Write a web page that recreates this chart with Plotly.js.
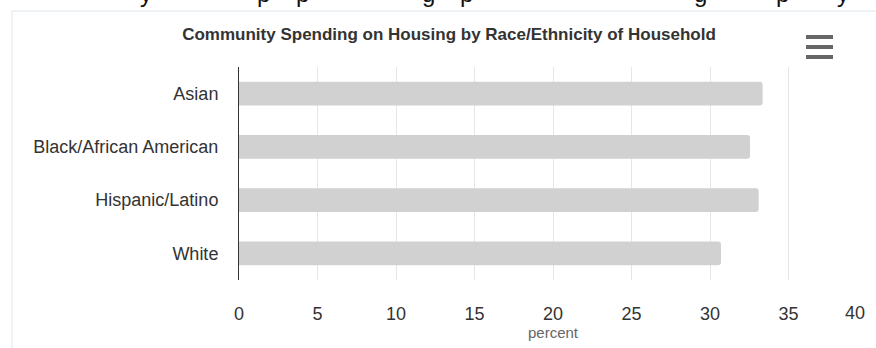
<!DOCTYPE html>
<html>
<head>
<meta charset="utf-8">
<script src="https://cdn.plot.ly/plotly-3.0.1.min.js"></script>
<style>
  html, body { margin: 0; padding: 0; background: #ffffff; }
  #chart { width: 876px; height: 348px; }
</style>
</head>
<body>
<div id="chart"></div>
<script>
// ---- data ----
var categories = ["Asian", "Black/African American", "Hispanic/Latino", "White"];
var spendingPercent = [33.35, 32.55, 33.1, 30.7];
var xTickValues = [0, 5, 10, 15, 20, 25, 30, 35, 40];
var xTickLabels = ["0", "5", "10", "15", "20", "25", "30", "35", "40"];
var chartTitle = "Community Spending on Housing by Race/Ethnicity of Household";
var xAxisTitle = "percent";
// cut-off letters of the page text above the chart (only descenders visible)
var pageTextAbove = ["y", "p", "p", "g", "p", "g", "p", "y"];

// ---- layout geometry (pixels) ----
var W = 876, H = 348;
var L = 239, R = 9, T = 67, B = 68;
var plotW = W - L - R, plotH = H - T - B;
function px2x(px) { return (px - L) / plotW; }
function py2y(py) { return (H - B - py) / plotH; }
var FONT = "Liberation Sans, Arial, sans-serif";

var abovePx = [146, 263, 302, 428, 466, 700, 782, 843];

var annotations = [];
pageTextAbove.forEach(function (ch, i) {
  annotations.push({
    text: ch, xref: "paper", yref: "paper",
    x: px2x(abovePx[i]), y: py2y(-6), xanchor: "center", yanchor: "middle",
    showarrow: false, font: { family: FONT, size: 24, color: "#111" }
  });
});
// last x tick label, pulled inside the plot edge
annotations.push({
  text: xTickLabels[xTickLabels.length - 1], xref: "x", yref: "paper",
  x: xTickValues[xTickValues.length - 1], xshift: -12, y: py2y(313),
  xanchor: "center", yanchor: "middle", showarrow: false,
  font: { family: FONT, size: 18, color: "#333" }
});

var tickTextShown = xTickLabels.map(function (t, i) { return i === xTickLabels.length - 1 ? "" : t; });

var shapes = [
  // chart container border
  { type: "rect", xref: "paper", yref: "paper",
    x0: px2x(12), x1: px2x(W + 20), y0: py2y(H + 20), y1: py2y(11),
    line: { color: "#dbe5ed", width: 1 }, fillcolor: "rgba(0,0,0,0)", layer: "below" }
];
// hamburger menu icon
[37, 47, 57].forEach(function (py) {
  shapes.push({ type: "line", xref: "paper", yref: "paper",
    x0: px2x(806), x1: px2x(833), y0: py2y(py), y1: py2y(py),
    line: { color: "#666666", width: 4 } });
});

var trace = {
  type: "bar",
  orientation: "h",
  y: categories,
  x: spendingPercent,
  marker: { color: "#d1d1d1", cornerradius: 3, line: { width: 0 } },
  hoverinfo: "x+y"
};

var layout = {
  width: W, height: H,
  margin: { l: L, r: R, t: T, b: B, pad: 0 },
  paper_bgcolor: "#ffffff",
  plot_bgcolor: "#ffffff",
  showlegend: false,
  bargap: 0.55,
  font: { family: FONT, color: "#333" },
  title: {
    text: "<b>" + chartTitle + "</b>",
    font: { family: FONT, size: 17, color: "#333" },
    xref: "container", yref: "container",
    x: 449 / W, y: 1 - 34 / H, xanchor: "center", yanchor: "middle"
  },
  xaxis: {
    range: [0, 40],
    tickvals: xTickValues,
    ticktext: tickTextShown,
    showgrid: true, gridcolor: "#e6e6e6", gridwidth: 1,
    zeroline: false, showline: false,
    ticks: "outside", ticklen: 17, tickcolor: "rgba(0,0,0,0)",
    tickfont: { family: FONT, size: 18, color: "#333" },
    title: { text: xAxisTitle, standoff: 0,
      font: { family: FONT, size: 15, color: "#666" } },
    fixedrange: true, automargin: false
  },
  yaxis: {
    autorange: "reversed",
    showgrid: false, zeroline: false,
    showline: true, linecolor: "#333", linewidth: 1,
    ticks: "outside", ticklen: 16, tickcolor: "rgba(0,0,0,0)",
    tickfont: { family: FONT, size: 18, color: "#333" },
    fixedrange: true, automargin: false
  },
  shapes: shapes,
  annotations: annotations
};

Plotly.newPlot("chart", [trace], layout, { displayModeBar: false, staticPlot: true });
</script>
</body>
</html>
